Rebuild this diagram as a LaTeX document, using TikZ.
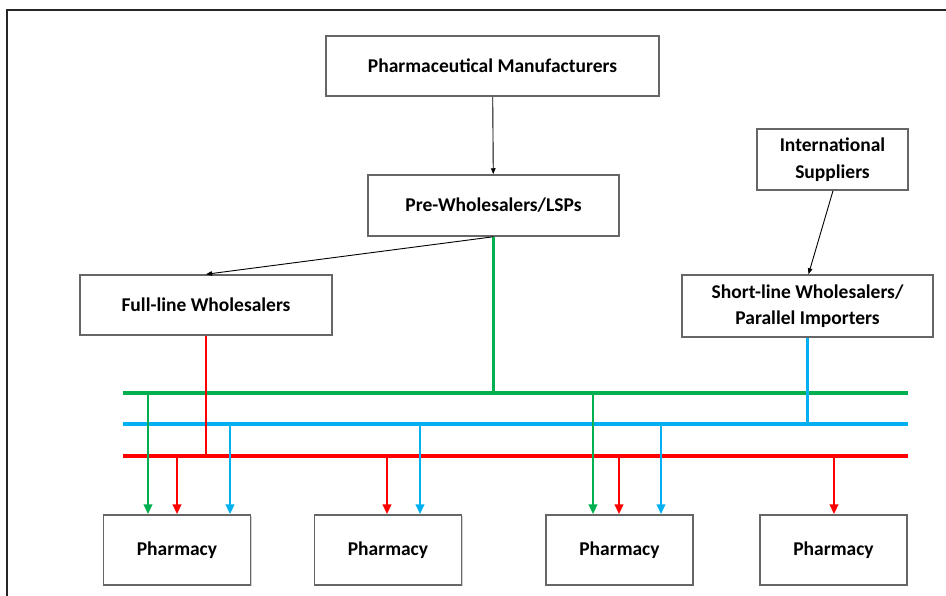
\documentclass[tikz,border=0pt]{standalone}
\usepackage{fontspec}
\setmainfont{Carlito}
\usepackage{tikz}
\usetikzlibrary{calc}
\usetikzlibrary{arrows.meta}
\usetikzlibrary{shadows}
\definecolor{busgreen}{HTML}{00B050}
\definecolor{busblue}{HTML}{00B0F0}
\definecolor{busred}{HTML}{FF0000}
\newcommand{\pagew}{946}
\newcommand{\pageh}{595}
\newcommand{\busxs}{123}
\newcommand{\busxe}{908}
\newcommand{\busgy}{393}
\newcommand{\busby}{424}
\newcommand{\busry}{456}
\newcommand{\phy}{550}
\newcommand{\phw}{147}
\newcommand{\phh}{70}

\begin{document}
\begin{tikzpicture}[x=1pt,y=-1pt,
    font=\bfseries\fontsize{19.5}{26.5}\selectfont,
    box/.style={draw=black!60,line width=1.5pt,fill=white,align=center,
      inner sep=0pt,drop shadow={shadow xshift=1pt,shadow yshift=-1.2pt,opacity=0.35}},
    feed/.style={line width=0.9pt,-{Triangle[length=6pt,width=4.5pt]}},
    bus/.style={line width=3.4pt},
    drop/.style={line width=2.6pt,-{Triangle[length=10pt,width=8.5pt]}}]
    \useasboundingbox (0,0) rectangle (\pagew,\pageh);
    % frame
    \draw[line width=2.6pt,black!85] (7,\pageh+5) -- (7,10) -- (\pagew+5,10);

    % suppliers
    \node[box,minimum width=333pt,minimum height=60pt] (manuf) at (492.5,66)
      {Pharmaceutical Manufacturers};
    \node[box,minimum width=251pt,minimum height=61pt] (prewhole) at (493.5,205.5)
      {Pre-Wholesalers/LSPs};
    \node[box,minimum width=151pt,minimum height=61pt] (intsup) at (832.5,159.5)
      {International\\Suppliers};
    \node[box,minimum width=252pt,minimum height=60pt] (fullline) at (206,305)
      {Full-line Wholesalers};
    \node[box,minimum width=251pt,minimum height=62pt] (shortline) at (807.5,306)
      {Short-line Wholesalers/\\Parallel Importers};

    % pharmacies
    \foreach \px [count=\i] in {177,388,619.5,833.5}
      \node[box,minimum width=\phw pt,minimum height=\phh pt] (ph\i) at (\px,\phy) {Pharmacy};

    \draw[feed] (manuf) -- (prewhole);
    \draw[feed] (prewhole.south) -- (fullline.north);
    \draw[feed] (intsup.south) ++(0.5,0) -- ($(shortline.north)+(1,0)$);

    \begin{scope}
      % buses
      \coordinate (gbus) at (\busxs,\busgy);
      \coordinate (bbus) at (\busxs,\busby);
      \coordinate (rbus) at (\busxs,\busry);
      \draw[bus,busgreen] (gbus) -- (\busxe,\busgy);
      \draw[bus,busblue] (bbus) -- (\busxe,\busby);
      \draw[bus,busred] (rbus) -- (\busxe,\busry);
      % feeders into the buses
      \draw[line width=2.6pt,busgreen] (prewhole.south) -- (prewhole.south |- gbus);
      \draw[line width=2.6pt,busred] (fullline.south) -- (fullline.south |- rbus);
      \draw[line width=2.6pt,busblue] (shortline.south) -- (shortline.south |- bbus);
    \end{scope}

    \begin{scope}
      % drops to pharmacies
      \foreach \dx/\ph in {148/ph1,593/ph3} {
        \coordinate (top) at (\dx,\busgy);
        \draw[drop,busgreen] (top) -- (top |- \ph.north);
      }
      \foreach \dx/\ph in {177/ph1,387/ph2,619/ph3,834/ph4} {
        \coordinate (top) at (\dx,\busry);
        \draw[drop,busred] (top) -- (top |- \ph.north);
      }
      \foreach \dx/\ph in {230/ph1,420/ph2,661/ph3} {
        \coordinate (top) at (\dx,\busby);
        \draw[drop,busblue] (top) -- (top |- \ph.north);
      }
    \end{scope}
\end{tikzpicture}
\end{document}
